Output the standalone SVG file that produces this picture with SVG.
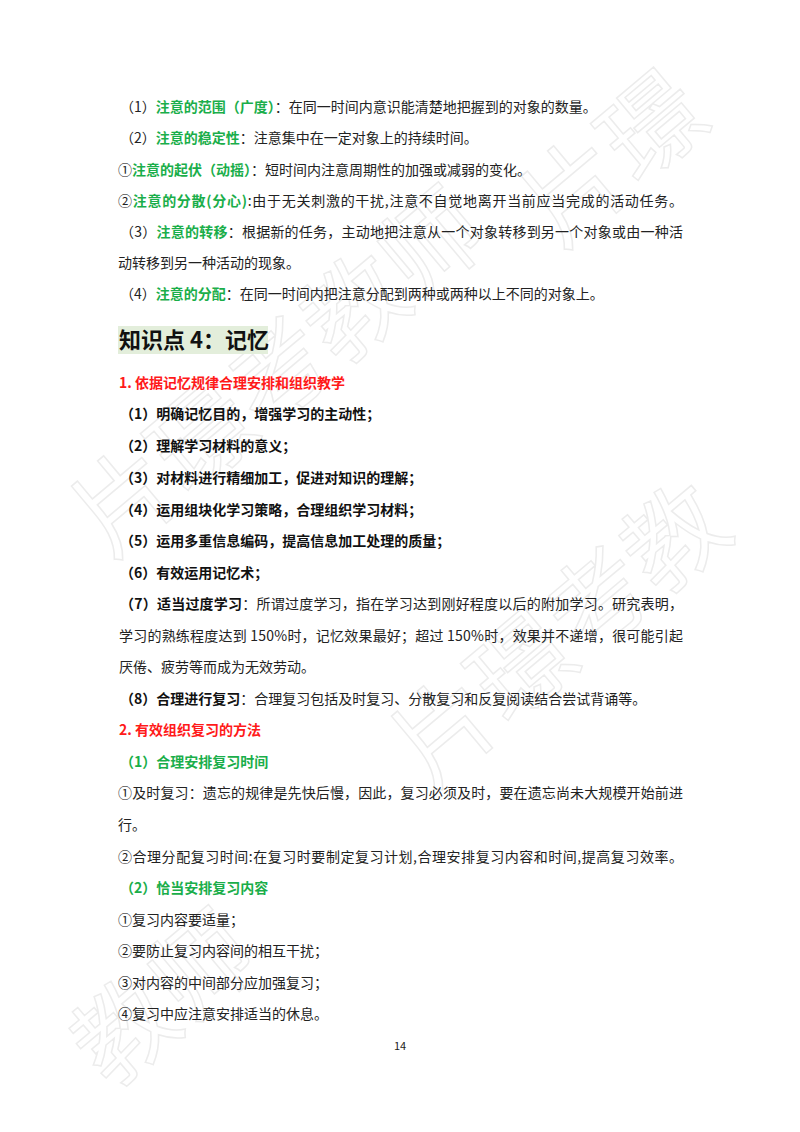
<svg xmlns="http://www.w3.org/2000/svg" width="800" height="1132" viewBox="0 0 800 1132">
<style>
text{font-family:"Noto Sans CJK SC","Liberation Serif",serif;font-size:14px;fill:#222}
.g{fill:#1aae4a;font-weight:bold}
.b{font-weight:bold;fill:#111}
.r{fill:#ff1a1a;font-weight:bold}
.h{font-size:22px;font-weight:bold;fill:#111}
.w{font-size:100px;fill:none;stroke:#ececec;stroke-width:1.5}
</style>
<rect width="800" height="1132" fill="#fff"/>
<g id="watermark">
<text class="w" x="560" y="250" transform="rotate(-40 560 250)">片璟</text>
<text class="w" x="110" y="560" transform="rotate(-40 110 560)">片璟考教师</text>
<text class="w" x="430" y="790" transform="rotate(-40 430 790)">片璟考教</text>
<text class="w" x="110" y="1090" transform="rotate(-40 110 1090)">教师</text>
</g>
<g id="content">
<text x="120" y="112">（1）<tspan class="g">注意的范围（广度）</tspan>：在同一时间内意识能清楚地把握到的对象的数量。</text>
<text x="120" y="143">（2）<tspan class="g">注意的稳定性</tspan>：注意集中在一定对象上的持续时间。</text>
<text x="118" y="175">①<tspan class="g">注意的起伏（动摇）</tspan>：短时间内注意周期性的加强或减弱的变化。</text>
<text x="118" y="206" textLength="565">②<tspan class="g">注意的分散(分心)</tspan>:由于无关刺激的干扰,注意不自觉地离开当前应当完成的活动任务。</text>
<text x="120" y="237" textLength="563">（3）<tspan class="g">注意的转移</tspan>：根据新的任务，主动地把注意从一个对象转移到另一个对象或由一种活</text>
<text x="118" y="268">动转移到另一种活动的现象。</text>
<text x="120" y="299">（4）<tspan class="g">注意的分配</tspan>：在同一时间内把注意分配到两种或两种以上不同的对象上。</text>
<rect x="118" y="326" width="150" height="28" fill="#e3eedb"/>
<text class="h" x="119" y="348">知识点 4：记忆</text>
<text class="r" x="119" y="388">1. 依据记忆规律合理安排和组织教学</text>
<text class="b" x="120" y="419">（1）明确记忆目的，增强学习的主动性；</text>
<text class="b" x="120" y="451">（2）理解学习材料的意义；</text>
<text class="b" x="120" y="483">（3）对材料进行精细加工，促进对知识的理解；</text>
<text class="b" x="120" y="515">（4）运用组块化学习策略，合理组织学习材料；</text>
<text class="b" x="120" y="546">（5）运用多重信息编码，提高信息加工处理的质量；</text>
<text class="b" x="120" y="578">（6）有效运用记忆术；</text>
<text x="120" y="609" textLength="563"><tspan class="b">（7）适当过度学习</tspan>：所谓过度学习，指在学习达到刚好程度以后的附加学习。研究表明，</text>
<text x="119" y="641" textLength="564">学习的熟练程度达到 150%时，记忆效果最好；超过 150%时，效果并不递增，很可能引起</text>
<text x="119" y="672">厌倦、疲劳等而成为无效劳动。</text>
<text x="120" y="704"><tspan class="b">（8）合理进行复习</tspan>：合理复习包括及时复习、分散复习和反复阅读结合尝试背诵等。</text>
<text class="r" x="119" y="735">2. 有效组织复习的方法</text>
<text class="g" x="120" y="767">（1）合理安排复习时间</text>
<text x="118" y="798" textLength="565">①及时复习：遗忘的规律是先快后慢，因此，复习必须及时，要在遗忘尚未大规模开始前进</text>
<text x="118" y="830">行。</text>
<text x="118" y="862" textLength="565">②合理分配复习时间:在复习时要制定复习计划,合理安排复习内容和时间,提高复习效率。</text>
<text class="g" x="120" y="893">（2）恰当安排复习内容</text>
<text x="118" y="925">①复习内容要适量；</text>
<text x="118" y="956">②要防止复习内容间的相互干扰；</text>
<text x="118" y="988">③对内容的中间部分应加强复习；</text>
<text x="118" y="1019">④复习中应注意安排适当的休息。</text>
<text x="400" y="1050" text-anchor="middle" style="font-size:11px">14</text>
</g>
</svg>
